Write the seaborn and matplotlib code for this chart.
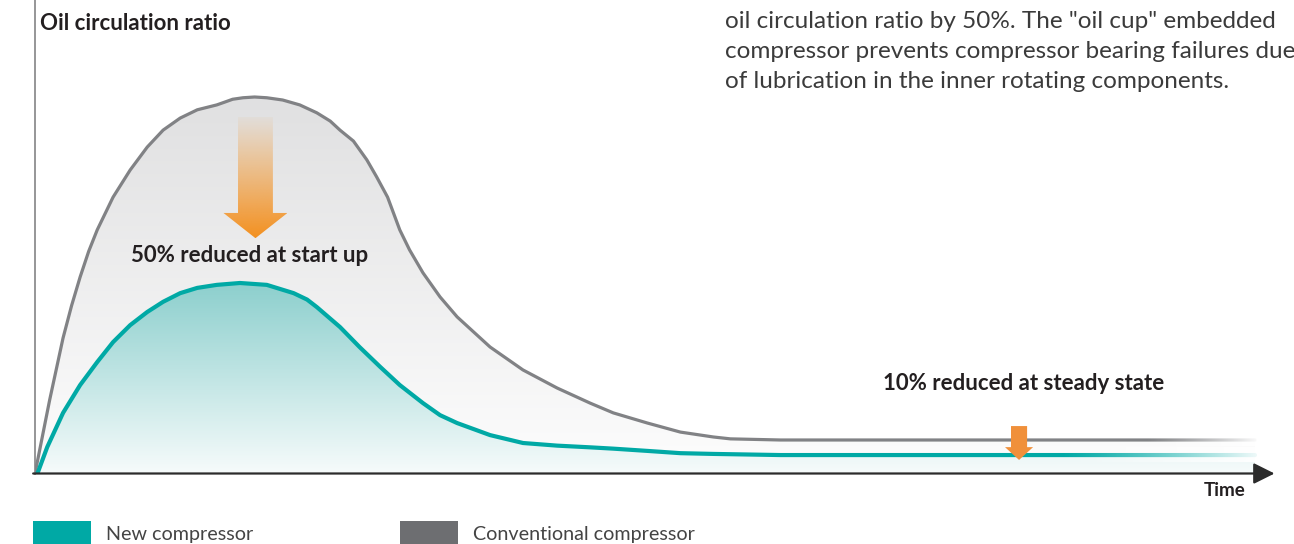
import numpy as np
import pandas as pd
import matplotlib
matplotlib.use("Agg")
import matplotlib.pyplot as plt
import seaborn as sns
from matplotlib.patches import Polygon, Patch
from matplotlib.colors import to_rgb

# ---- data -------------------------------------------------------------
time_conv = [0, 1.2, 2.3, 3.0, 3.7, 4.4, 5.1, 6.4, 7.8, 9.2, 10.5, 11.9, 13.3, 14.9,
             15.6, 16.2, 17.05, 18.0, 19.0, 20.3, 21.7, 23.1, 24.2, 25.0, 26.1,
             27.2, 28.0, 28.9, 29.9, 30.7, 31.8, 33.2, 34.6, 37.3, 40.0, 42.8,
             45.5, 47.4, 50.2, 52.9, 55.6, 57.0, 61.1, 100]
ratio_conv = [0, 19.5, 36.0, 44.6, 52.2, 59.0, 64.7, 73.4, 80.6, 86.7, 91.2, 94.4,
              96.6, 97.9, 98.7, 99.4, 99.8, 100, 99.8, 99.2, 97.9, 95.8, 93.6,
              91.2, 88.3, 83.3, 78.8, 73.4, 64.7, 59.4, 53.3, 46.9, 41.6, 33.6,
              27.5, 22.7, 18.7, 16.1, 13.4, 11.0, 9.7, 9.2, 8.9, 8.9]

time_new = [0.2, 1.0, 2.3, 3.7, 5.1, 6.4, 7.8, 9.2, 10.5, 11.9, 13.3, 14.9, 16.8,
            19.0, 21.2, 22.3, 23.1, 25.0, 26.6, 28.3, 29.9, 31.8, 33.2, 34.6,
            37.3, 40.0, 42.8, 45.5, 47.4, 50.2, 52.9, 55.6, 61.1, 100]
ratio_new = [0, 7.0, 16.1, 23.5, 29.6, 34.9, 39.4, 42.9, 45.6, 47.9, 49.3, 50.1,
             50.6, 50.1, 47.9, 46.2, 44.2, 38.9, 33.6, 28.3, 23.5, 18.7, 15.5,
             13.4, 10.2, 8.1, 7.4, 6.95, 6.6, 6.0, 5.4, 5.2, 4.9, 4.9]

series_names = ["New compressor", "Conventional compressor"]
startup_label = "50% reduced at start up"
steady_label = "10% reduced at steady state"
y_title = "Oil circulation ratio"
x_title = "Time"
paragraph = [
    'oil circulation ratio by 50%. The "oil cup" embedded',
    "compressor prevents compressor bearing failures due",
    "of lubrication in the inner rotating components.",
]

# ---- style ------------------------------------------------------------
TEAL = "#00a9a5"
GRAY_LINE = "#818285"
GRAY_KEY = "#6d6e71"
ORANGE = "#f39020"
TEXT_DARK = "#231f20"

sns.set_theme(style="white")
plt.rcParams["font.family"] = ["Lato", "DejaVu Sans"]

W, H = 1294, 544
fig = plt.figure(figsize=(W / 100, H / 100), dpi=100)

X0, Y0 = 35, 473.5          # origin in pixels
PX_T, PX_Y = 12.2, 3.765    # pixels per unit
XMAX = 102
YMAX = Y0 / PX_Y
ax = fig.add_axes([X0 / W, (H - Y0) / H, XMAX * PX_T / W, Y0 / H])
ax.patch.set_alpha(0)

df = pd.concat([
    pd.DataFrame({"time": time_conv, "ratio": ratio_conv, "compressor": series_names[1]}),
    pd.DataFrame({"time": time_new, "ratio": ratio_new, "compressor": series_names[0]}),
])


def gradient_fill(x, y, top_color, bottom_color, ytop, zorder):
    poly = ax.fill_between(x, y, 0, facecolor="none", edgecolor="none")
    c0 = np.array(to_rgb(bottom_color))
    c1 = np.array(to_rgb(top_color))
    f = np.linspace(0, 1, 256)[:, None]
    img = (c0 + (c1 - c0) * f)[:, None, :]
    im = ax.imshow(img, extent=[min(x), max(x), 0, ytop], origin="lower",
                   aspect="auto", zorder=zorder, interpolation="bilinear")
    im.set_clip_path(poly.get_paths()[0], transform=ax.transData)


gradient_fill(time_conv, ratio_conv, "#e0e0e1", "#fdfdfd", max(ratio_conv), 1)
gradient_fill(time_new, ratio_new, "#8ccfcd", "#f6fbfb", max(ratio_new), 2)

conv_df = df[df["compressor"] == series_names[1]]
new_df = df[df["compressor"] == series_names[0]]
sns.lineplot(data=conv_df, x="time", y="ratio", color=GRAY_LINE, linewidth=2.3,
             estimator=None, sort=False, legend=False, ax=ax, zorder=3,
             solid_joinstyle="round", solid_capstyle="round")
sns.lineplot(data=new_df, x="time", y="ratio", color=TEAL, linewidth=3.0,
             estimator=None, sort=False, legend=False, ax=ax, zorder=4,
             solid_joinstyle="round", solid_capstyle="round")


# fading tails of the steady-state lines
def white_fade(x0, x1, y0, y1):
    a = np.linspace(0, 1, 256) ** 1.2
    img = np.ones((1, 256, 4))
    img[0, :, 3] = a
    ax.imshow(img, extent=[x0, x1, y0, y1], origin="lower", aspect="auto",
              zorder=5, interpolation="bilinear")


white_fade(84, 101, 3.0, 6.9)
white_fade(91, 100.5, 7.3, 10.6)

# start-up arrow with vertical gradient
cx, sh, hh = 18.07, 1.43, 2.62
y_top, y_base, y_tip = 94.7, 69.2, 62.5
arrow_pts = [(cx - sh, y_top), (cx + sh, y_top), (cx + sh, y_base), (cx + hh, y_base),
             (cx, y_tip), (cx - hh, y_base), (cx - sh, y_base)]
arrow_patch = Polygon(arrow_pts, closed=True, facecolor="none", edgecolor="none")
ax.add_patch(arrow_patch)
grad = np.zeros((256, 1, 4))
grad[:, 0, :3] = to_rgb(ORANGE)
grad[:, 0, 3] = np.linspace(1.0, 0.04, 256)
im = ax.imshow(grad, extent=[cx - hh, cx + hh, y_tip, y_top], origin="lower",
               aspect="auto", zorder=6, interpolation="bilinear")
im.set_clip_path(arrow_patch)

# steady-state arrow
cx2, sh2, hh2 = 80.66, 0.66, 1.15
pts2 = [(cx2 - sh2, 12.6), (cx2 + sh2, 12.6), (cx2 + sh2, 7.0), (cx2 + hh2, 7.0),
        (cx2, 3.6), (cx2 - hh2, 7.0), (cx2 - sh2, 7.0)]
ax.add_patch(Polygon(pts2, closed=True, facecolor="#f0903a", edgecolor="none", zorder=7))

# axes
ax.set_xlim(0, XMAX)
ax.set_ylim(0, YMAX)
ax.set_xticks([])
ax.set_yticks([])
for s in ["top", "right", "bottom"]:
    ax.spines[s].set_visible(False)
ax.spines["left"].set_color("#8d8d8f")
ax.spines["left"].set_linewidth(1.3)
ax.set_xlabel("")
ax.set_ylabel("")
ax.annotate("", xy=(101.6, 0), xytext=(-0.15, 0), xycoords="data",
            arrowprops=dict(arrowstyle="-|>,head_length=0.4,head_width=0.2",
                            mutation_scale=32, lw=1.6, color="#2b2b2b",
                            shrinkA=0, shrinkB=0),
            annotation_clip=False, zorder=8)


def fx(px):
    return px / W


def fy(py):
    return 1 - py / H


fig.text(fx(40), fy(23), y_title, fontsize=16, fontweight="bold", color=TEXT_DARK,
         ha="left", va="center")
for i, line in enumerate(paragraph):
    fig.text(fx(725), fy(21 + 30.5 * i), line, fontsize=17.5, color="#3b3b3b",
             ha="left", va="center")
fig.text(fx(250), fy(255), startup_label, fontsize=16, fontweight="bold",
         color=TEXT_DARK, ha="center", va="center")
fig.text(fx(1024), fy(383), steady_label, fontsize=16, fontweight="bold",
         color=TEXT_DARK, ha="center", va="center")
fig.text(fx(1245), fy(490), x_title, fontsize=13.5, fontweight="bold",
         color=TEXT_DARK, ha="right", va="center")

handles = [Patch(facecolor=TEAL, edgecolor="none", label=series_names[0]),
           Patch(facecolor=GRAY_KEY, edgecolor="none", label=series_names[1])]
fig.legend(handles=handles, loc="upper left", bbox_to_anchor=(fx(33), fy(521)),
           ncol=2, frameon=False, fontsize=14.2, handlelength=2.94, handleheight=1.55,
           handletextpad=0.76, columnspacing=7.46, borderpad=0, borderaxespad=0,
           labelcolor="#444444")

fig.savefig("out.png", dpi=100)
